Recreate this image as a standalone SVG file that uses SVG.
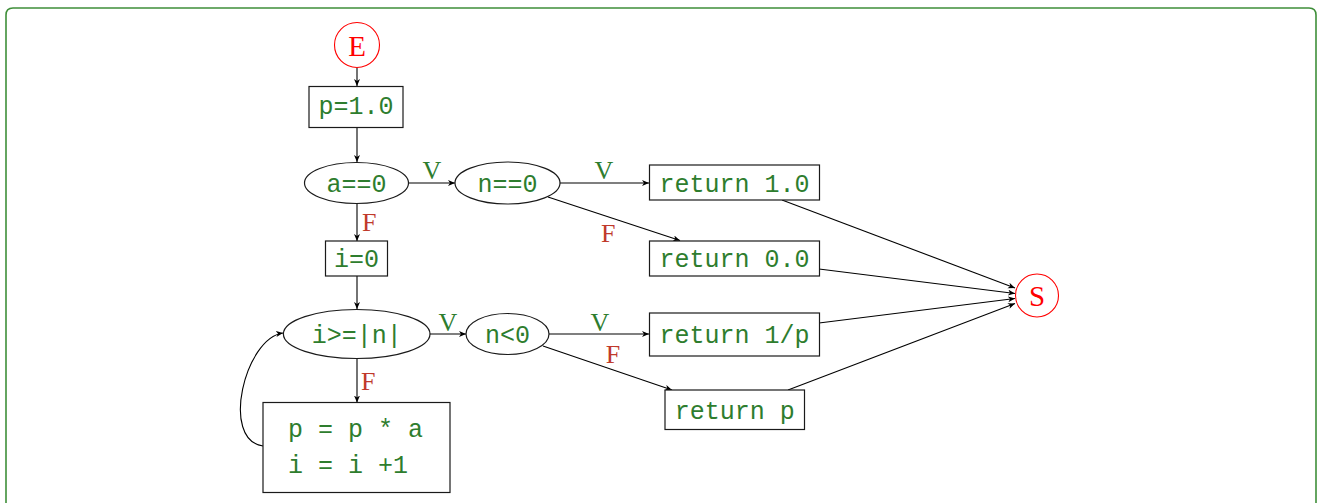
<svg xmlns="http://www.w3.org/2000/svg" width="1322" height="503" viewBox="0 0 1322 503">
<style>
.frame{fill:none;stroke:#3f8f3a;stroke-width:1.6}
.box{fill:#fff;stroke:#1a1a1a;stroke-width:1.2}
.term{fill:#fff;stroke:#ff0000;stroke-width:1.1}
.code{font-family:"Liberation Mono",monospace;font-size:25px;fill:#2e7d2e}
.mid{text-anchor:middle}
.lbl{font-family:"Liberation Serif",serif;font-size:26px}
.v{fill:#2e7d2e}
.f{fill:#c0392b}
.tt{font-family:"Liberation Serif",serif;font-size:29px;fill:#ff0000;text-anchor:middle}
.edge{fill:none;stroke:#000;stroke-width:1.1;marker-end:url(#ah)}
</style>
<defs>
<marker id="ah" markerUnits="userSpaceOnUse" markerWidth="10" markerHeight="8" refX="7" refY="3" orient="auto">
<path d="M0,0 L7,3 L0,6 L2,3 z" fill="#000"/>
</marker>
</defs>
<rect width="1322" height="503" fill="#fff"/>
<path class="frame" d="M6,520 L6,15 Q6,8 13,8 L1309,8 Q1316,8 1316,15 L1316,520"/>

<g id="connectors">
<path class="edge" d="M357,68 L357,86"/>
<path class="edge" d="M357,127 L357,162"/>
<path class="edge" d="M357,203.5 L357,241"/>
<path class="edge" d="M357,276 L357,309"/>
<path class="edge" d="M357,358.5 L357,402.5"/>
<path class="edge" d="M263,446 C220,440 245,338 283,333"/>
<path class="edge" d="M408.5,183 L455,183"/>
<path class="edge" d="M560,183 L649,183"/>
<path class="edge" d="M548,197 L680,240.5"/>
<path class="edge" d="M430,334 L466,334"/>
<path class="edge" d="M549,334 L649,334"/>
<path class="edge" d="M543,346 L672,390"/>
<path class="edge" d="M782,200 L1015,288"/>
<path class="edge" d="M819,269 L1015,293.5"/>
<path class="edge" d="M819,323 L1015,298.5"/>
<path class="edge" d="M788,390 L1015,303.5"/>
<text class="lbl f" x="362" y="231">F</text>
<text class="lbl f" x="361" y="390">F</text>
<text class="lbl v mid" x="432" y="179">V</text>
<text class="lbl v mid" x="604" y="179">V</text>
<text class="lbl f" x="601" y="242">F</text>
<text class="lbl v mid" x="448" y="331">V</text>
<text class="lbl v mid" x="600" y="331">V</text>
<text class="lbl f mid" x="613" y="363">F</text>
</g>

<g id="E"><circle class="term" cx="357" cy="45" r="22.5"/><text class="tt" x="357" y="56">E</text></g>
<g id="p1"><rect class="box" x="309" y="86.5" width="94" height="41"/><text class="code mid" x="356" y="114">p=1.0</text></g>
<g id="a0"><ellipse class="box" cx="356.5" cy="183" rx="52" ry="20.5"/><text class="code mid" x="356.5" y="192">a==0</text></g>
<g id="i0"><rect class="box" x="325.5" y="241" width="62" height="35"/><text class="code mid" x="356.5" y="267">i=0</text></g>
<g id="cond"><ellipse class="box" cx="356.7" cy="334" rx="73.3" ry="24.5"/><text class="code mid" x="356.7" y="343">i&gt;=|n|</text></g>
<g id="body"><rect class="box" x="263" y="402.5" width="187" height="90"/><text class="code" x="288" y="437">p = p * a</text><text class="code" x="288" y="473">i = i +1</text></g>
<g id="n0"><ellipse class="box" cx="507.5" cy="183" rx="52.5" ry="21"/><text class="code mid" x="507.5" y="192">n==0</text></g>
<g id="nlt0"><ellipse class="box" cx="507.5" cy="334" rx="41.5" ry="20.5"/><text class="code mid" x="507.5" y="343">n&lt;0</text></g>
<g id="r10"><rect class="box" x="649.5" y="165" width="170" height="35"/><text class="code mid" x="734.5" y="191.5">return 1.0</text></g>
<g id="r00"><rect class="box" x="649.5" y="241" width="170" height="35"/><text class="code mid" x="734.5" y="267">return 0.0</text></g>
<g id="r1p"><rect class="box" x="649.5" y="313" width="170" height="43"/><text class="code mid" x="734.5" y="343">return 1/p</text></g>
<g id="rp"><rect class="box" x="665" y="390" width="139.5" height="39.5"/><text class="code mid" x="734.7" y="418.5">return p</text></g>
<g id="S"><circle class="term" cx="1037" cy="295.5" r="21.5"/><text class="tt" x="1037" y="306">S</text></g>
</svg>
